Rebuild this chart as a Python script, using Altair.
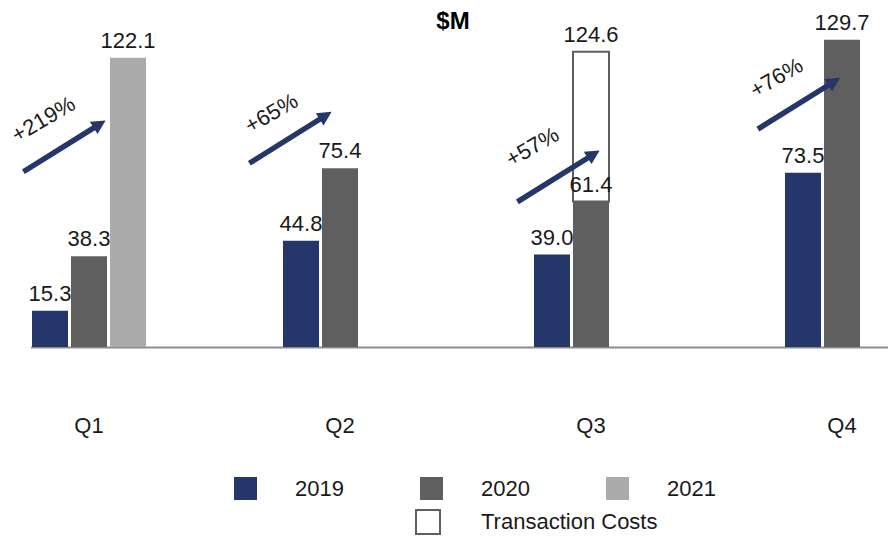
import altair as alt
import pandas as pd

# ---------------- data ----------------
quarters = ["Q1", "Q2", "Q3", "Q4"]
years = ["2019", "2020", "2021"]
rev_2019 = [15.3, 44.8, 39.0, 73.5]
rev_2020 = [38.3, 75.4, 61.4, 129.7]
rev_2021 = [122.1, None, None, None]
txn_quarter = ["Q3"]
txn_year = ["2020"]
txn_base = [61.4]
txn_total = [124.6]
growth = ["+219%", "+65%", "+57%", "+76%"]
title_text = ["$M"]

# ---------------- annotation placement (style) ----------------
arrow_dx = [-24.5, -49.5, -32.5, -43.0]
arrow_y = [84.8, 88.4, 72.1, 102.8]
label_dx = [-45.5, -68.5, -58.5, -65.5]
label_y = [96.0, 98.6, 84.4, 113.6]

FONT = "Liberation Sans"
NAVY = "#25366a"
DARK = "#5f5f5f"
LIGHT = "#ababab"
TEXT = "#1a1a1a"
ARROW = "M -1 -0.056 L 0.71 -0.056 L 0.71 -0.15 L 1 0 L 0.71 0.15 L 0.71 0.056 L -1 0.056 Z"

rows = []
for q, a, b, c in zip(quarters, rev_2019, rev_2020, rev_2021):
    for yr, v in zip(years, (a, b, c)):
        if v is not None:
            rows.append({"quarter": q, "year": yr, "value": v})
bars_df = pd.DataFrame(rows)

txn_df = pd.DataFrame({"quarter": txn_quarter, "year": txn_year,
                       "base": txn_base, "top": txn_total,
                       "kind": ["Transaction Costs"] * len(txn_quarter)})

ann_df = pd.DataFrame({"quarter": quarters, "label": growth,
                       "ay": arrow_y, "ly": label_y})

x_enc = alt.X("quarter:N",
              scale=alt.Scale(domain=quarters, range=[22.5, 892.5],
                              paddingInner=0.5339, paddingOuter=0),
              axis=alt.Axis(title=None, labelFontSize=22, labelFont=FONT,
                            labelColor=TEXT, labelPadding=68, ticks=False,
                            domainColor="#8c8c8c", domainWidth=2,
                            labelAngle=0, grid=False))
xoff = alt.XOffset("year:N", scale=alt.Scale(domain=years, paddingInner=0.077,
                                              paddingOuter=0.0385))
y_scale = alt.Scale(domain=[0, 130], nice=False, zero=True)

bars = alt.Chart(bars_df).mark_bar().encode(
    x=x_enc,
    xOffset=xoff,
    y=alt.Y("value:Q", scale=y_scale, axis=None),
    color=alt.Color("year:N",
                    scale=alt.Scale(domain=years, range=[NAVY, DARK, LIGHT]),
                    legend=alt.Legend(title=None, orient="none", legendX=226,
                                      legendY=438, direction="horizontal",
                                      symbolType="square", symbolSize=529,
                                      symbolStrokeWidth=0, labelFontSize=22,
                                      labelFont=FONT, labelColor=TEXT,
                                      labelOffset=38, columnPadding=76,
                                      padding=0)),
)

box = alt.Chart(txn_df).mark_bar(fill="white", strokeWidth=2).encode(
    x=x_enc,
    xOffset=xoff,
    y=alt.Y("top:Q", scale=y_scale, axis=None),
    y2="base:Q",
    stroke=alt.Stroke("kind:N",
                      scale=alt.Scale(domain=["Transaction Costs"], range=[DARK]),
                      legend=alt.Legend(title=None, orient="none", legendX=407,
                                        legendY=470, symbolType="square",
                                        symbolSize=576, symbolStrokeWidth=2,
                                        symbolFillColor="white",
                                        labelFontSize=22, labelFont=FONT,
                                        labelColor=TEXT, labelOffset=40,
                                        labelLimit=400, padding=0)),
)

value_labels = alt.Chart(bars_df).mark_text(
    baseline="alphabetic", dy=-10, fontSize=22, font=FONT, color=TEXT
).encode(
    x=x_enc, xOffset=xoff,
    y=alt.Y("value:Q", scale=y_scale, axis=None),
    text=alt.Text("value:Q", format=".1f"),
)

box_labels = alt.Chart(txn_df).mark_text(
    baseline="alphabetic", dy=-10, fontSize=22, font=FONT, color=TEXT
).encode(
    x=x_enc, xOffset=xoff,
    y=alt.Y("top:Q", scale=y_scale, axis=None),
    text=alt.Text("top:Q", format=".1f"),
)

title_mark = alt.Chart(pd.DataFrame({"t": title_text})).mark_text(
    fontSize=24, fontWeight="bold", font=FONT, color="black",
    align="center", baseline="alphabetic"
).encode(x=alt.value(445), y=alt.value(-10), text="t:N")

layers = [bars, box, value_labels, box_labels, title_mark]
for i, q in enumerate(quarters):
    layers.append(
        alt.Chart(ann_df).transform_filter(alt.datum.quarter == q).mark_point(
            shape=ARROW, size=9409, filled=True, fill=NAVY, opacity=1,
            strokeWidth=0, angle=328, xOffset=arrow_dx[i]
        ).encode(x=x_enc, y=alt.Y("ay:Q", scale=y_scale, axis=None))
    )
    layers.append(
        alt.Chart(ann_df).transform_filter(alt.datum.quarter == q).mark_text(
            angle=330, fontSize=22, font=FONT, color=TEXT, align="center",
            baseline="middle", xOffset=label_dx[i]
        ).encode(x=x_enc, y=alt.Y("ly:Q", scale=y_scale, axis=None),
                 text="label:N")
    )

chart = alt.layer(*layers).properties(
    width=880, height=308,
    padding={"left": 0, "top": 31, "right": 0, "bottom": 189},
    autosize=alt.AutoSizeParams(type="none"),
).configure_view(stroke=None)

chart.save("out.html", embed_options={"renderer": "svg", "actions": False})
